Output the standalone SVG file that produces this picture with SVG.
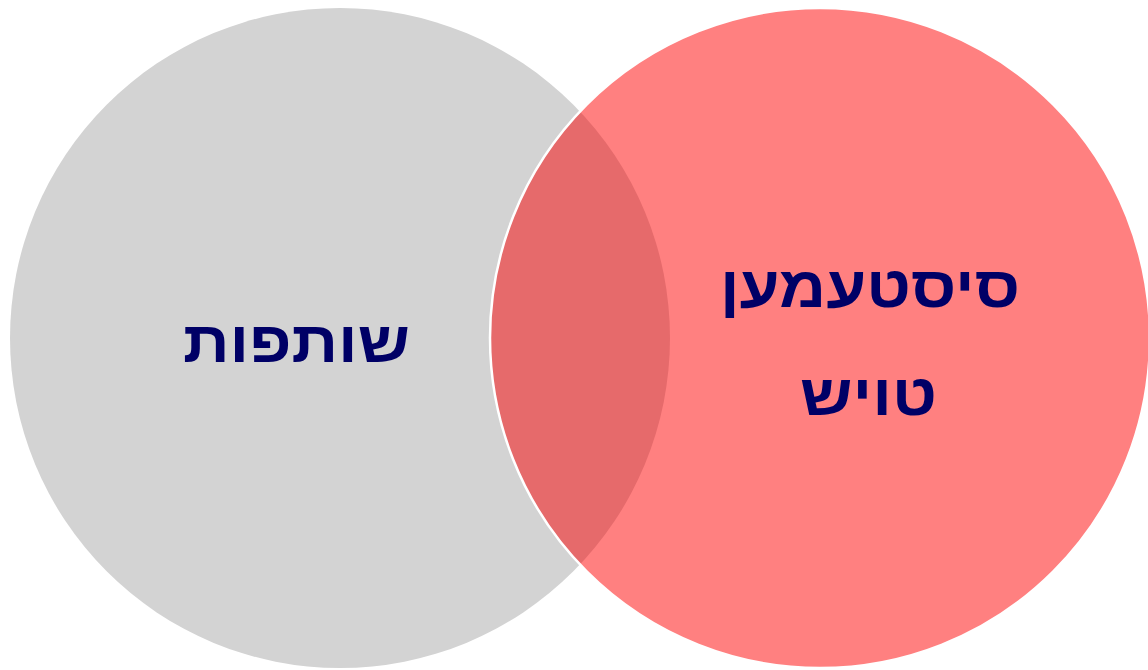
<svg xmlns="http://www.w3.org/2000/svg" width="1148" height="670" viewBox="0 0 1148 670">
  <style>
    .lbl { font-family: "Liberation Sans", "DejaVu Sans", sans-serif; font-weight: bold; font-size: 58px; fill: #000066; text-anchor: middle; }
  </style>
  <defs>
    <clipPath id="rightClip"><circle cx="820" cy="338" r="330"/></clipPath>
  </defs>
  <rect width="1148" height="670" fill="#ffffff"/>
  <g id="left-circle">
    <circle cx="340" cy="338" r="330" fill="#D3D3D3"/>
  </g>
  <g id="right-circle">
    <circle cx="820" cy="338" r="330" fill="#FF8080"/>
  </g>
  <g id="overlap">
    <circle cx="340" cy="338" r="330" fill="#E66A6B" clip-path="url(#rightClip)"/>
    <circle cx="820" cy="338" r="330" fill="none" stroke="#ffffff" stroke-width="2.5"/>
  </g>
  <g id="labels">
    <text class="lbl" x="296.5" y="362" direction="rtl" textLength="227" lengthAdjust="spacingAndGlyphs">שותפות</text>
    <text class="lbl" x="870" y="307" direction="rtl" textLength="300" lengthAdjust="spacingAndGlyphs">סיסטעמען</text>
    <text class="lbl" x="868.5" y="415" direction="rtl" textLength="137" lengthAdjust="spacingAndGlyphs">טויש</text>
  </g>
</svg>
